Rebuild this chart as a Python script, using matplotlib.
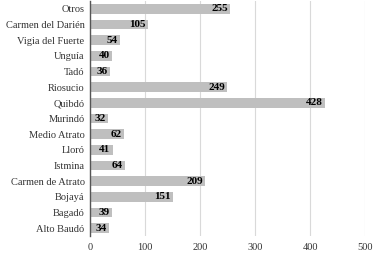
import matplotlib.pyplot as plt

municipios = ['Otros', 'Carmen del Darién', 'Vigia del Fuerte', 'Unguía', 'Tadó',
              'Riosucio', 'Quibdó', 'Murindó', 'Medio Atrato', 'Lloró', 'Istmina',
              'Carmen de Atrato', 'Bojayá', 'Bagadó', 'Alto Baudó']
valores = [255, 105, 54, 40, 36, 249, 428, 32, 62, 41, 64, 209, 151, 39, 34]

plt.rcParams['font.family'] = 'Liberation Serif'

fig = plt.figure(figsize=(3.74, 2.54), dpi=100)
ax = fig.add_axes([0.241, 0.071, 0.735, 0.925])

y = list(range(len(municipios)))
ax.barh(y, valores, height=0.6, color='#bfbfbf', zorder=2)
for yi, v in zip(y, valores):
    ax.text(v - 4, yi, str(v), ha='right', va='center', fontsize=8,
            fontweight='bold', color='black', zorder=3)

ax.set_yticks(y)
ax.set_yticklabels(municipios, fontsize=7.5, color='#333333')
ax.set_ylim(len(municipios) - 0.5, -0.5)
ax.set_xlim(0, 500)
ax.set_xticks([0, 100, 200, 300, 400, 500])
ax.tick_params(axis='both', length=0, labelsize=7.5, labelcolor='#333333')
ax.tick_params(axis='x', pad=5)
ax.tick_params(axis='y', pad=4)
ax.grid(axis='x', color='#d9d9d9', linewidth=0.8, zorder=0)
for s in ['top', 'right', 'bottom']:
    ax.spines[s].set_visible(False)
ax.spines['left'].set_color('#555555')
ax.spines['left'].set_linewidth(1)
ax.spines['left'].set_zorder(4)

fig.savefig('out.png', dpi=100)
